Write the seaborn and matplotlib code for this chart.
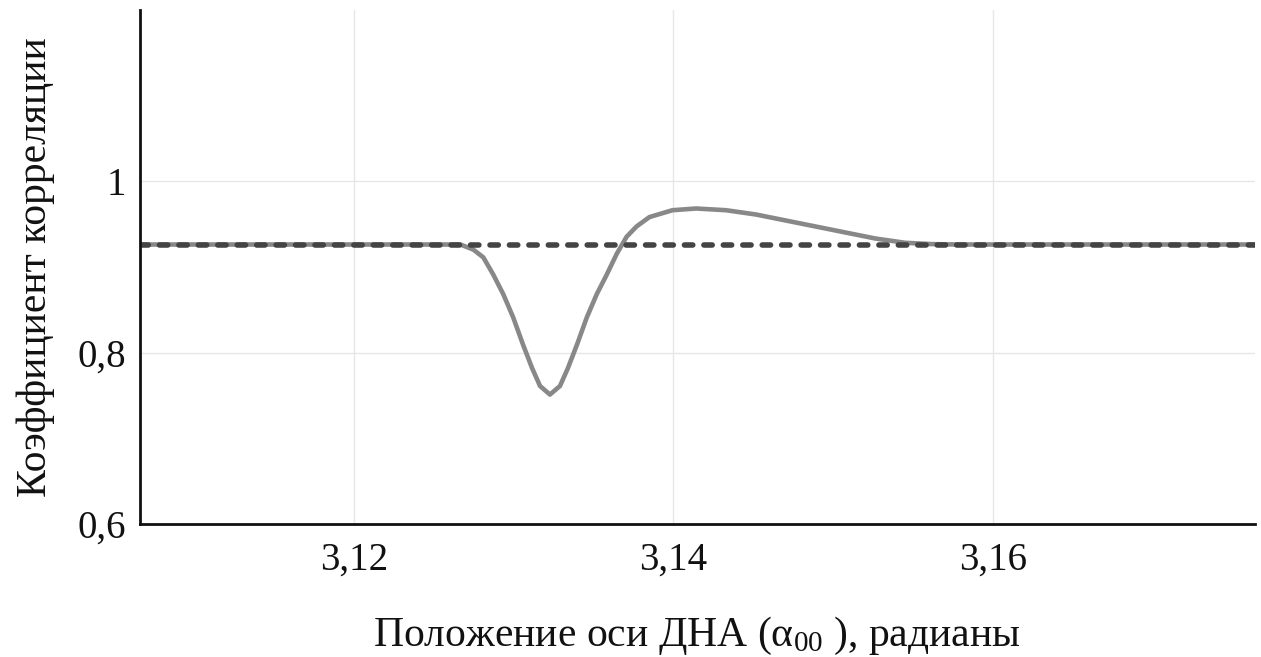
import matplotlib
matplotlib.use("Agg")
import matplotlib.pyplot as plt
import matplotlib.ticker as mticker
import seaborn as sns
import pandas as pd

# Correlation coefficient versus antenna pattern axis position
alpha_pos = [3.10660, 3.12000, 3.12667, 3.12748, 3.12810, 3.12872, 3.12935,
             3.12997, 3.13059, 3.13115, 3.13165, 3.13227, 3.13290, 3.13340,
             3.13396, 3.13458, 3.13520, 3.13583, 3.13645, 3.13707, 3.13769,
             3.13850, 3.13994, 3.14143, 3.14330, 3.14517, 3.14704, 3.14891,
             3.15078, 3.15265, 3.15452, 3.15614, 3.15782, 3.17640]
corr = [0.926, 0.926, 0.926, 0.920, 0.911, 0.891, 0.868,
        0.841, 0.809, 0.782, 0.761, 0.751, 0.761, 0.782,
        0.809, 0.841, 0.868, 0.891, 0.915, 0.935, 0.947,
        0.958, 0.966, 0.968, 0.966, 0.961, 0.954, 0.947,
        0.940, 0.933, 0.928, 0.9265, 0.926, 0.926]

# Reference level
ref_pos = [3.1066, 3.1764]
ref_corr = [0.926, 0.926]

x_ticks = [3.12, 3.14, 3.16]
y_ticks = [0.6, 0.8, 1.0]

sns.set_theme(style="white")
plt.rcParams["font.family"] = ["Liberation Serif", "DejaVu Serif"]
plt.rcParams["mathtext.fontset"] = "custom"
plt.rcParams["mathtext.rm"] = "Liberation Serif"
plt.rcParams["mathtext.it"] = "Liberation Serif"
plt.rcParams["mathtext.default"] = "regular"

fig = plt.figure(figsize=(12.61, 6.57), dpi=100)
ax = fig.add_axes([0.111, 0.2024, 0.884, 0.783])

curve = pd.DataFrame({"x": alpha_pos, "y": corr})
ref = pd.DataFrame({"x": ref_pos, "y": ref_corr})

sns.lineplot(data=curve, x="x", y="y", ax=ax, color="#888888", linewidth=3.3,
             sort=False)
ax.lines[-1].set_solid_joinstyle("round")
ax.lines[-1].set_solid_capstyle("round")
sns.lineplot(data=ref, x="x", y="y", ax=ax, color="#444444", linewidth=4.0)
ax.lines[-1].set_dashes([1.5, 2.0])
ax.lines[-1].set_dash_capstyle("round")

ax.set_xlim(3.1066, 3.1764)
ax.set_ylim(0.6, 1.2)
ax.set_xticks(x_ticks)
ax.set_yticks(y_ticks)

def comma_fmt(v, _):
    s = f"{v:.2f}".rstrip("0").rstrip(".")
    return s.replace(".", ",")

ax.xaxis.set_major_formatter(mticker.FuncFormatter(comma_fmt))
ax.yaxis.set_major_formatter(mticker.FuncFormatter(comma_fmt))

ax.grid(True, color="#e6e6e6", linewidth=1.0)
ax.set_axisbelow(True)
for side in ["top", "right"]:
    ax.spines[side].set_visible(False)
for side in ["left", "bottom"]:
    ax.spines[side].set_color("#111111")
    ax.spines[side].set_linewidth(2.0)

ax.tick_params(axis="both", length=0, labelsize=28, colors="#111111")
ax.tick_params(axis="x", pad=13)
ax.tick_params(axis="y", pad=10)

ax.set_xlabel("Положение оси ДНА (α${}_{00}$ ), радианы", fontsize=30,
              color="#111111", labelpad=26)
ax.set_ylabel("Коэффициент корреляции", fontsize=30, color="#111111", labelpad=16)

fig.savefig("out.png", dpi=100, facecolor="white")
